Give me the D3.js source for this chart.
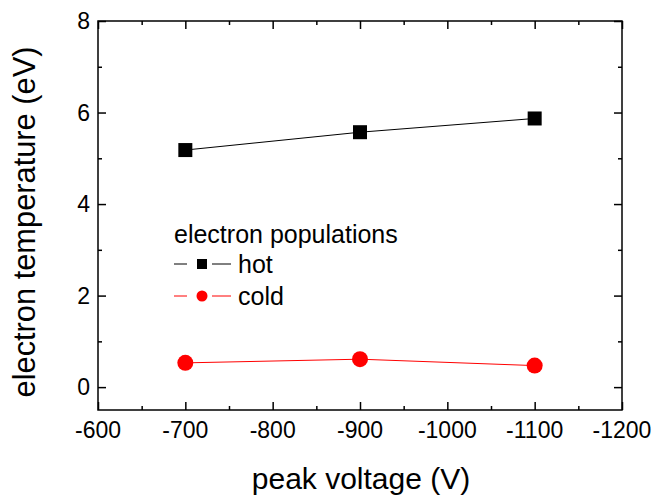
<!DOCTYPE html>
<html>
<head>
<meta charset="utf-8">
<script src="https://cdn.jsdelivr.net/npm/d3@7"></script>
<style>
  body { margin: 0; background: #fff; }
  text { font-family: "Liberation Sans", Arial, sans-serif; fill: #000; }
</style>
</head>
<body>
<div id="chart"></div>
<script>
// peak voltage values (V)
var voltages = [-700, -900, -1100];
// electron temperature (eV) per population
var hotTemps = [5.18, 5.57, 5.87];
var coldTemps = [0.53, 0.61, 0.47];
var seriesNames = ["hot", "cold"];
var xTicks = [-600, -700, -800, -900, -1000, -1100, -1200];
var yTicks = [0, 2, 4, 6, 8];

var width = 655, height = 495;
var margin = { top: 21, right: 33, bottom: 85, left: 98 };
var w = width - margin.left - margin.right;
var h = height - margin.top - margin.bottom;

var svg = d3.select("#chart").append("svg")
    .attr("width", width)
    .attr("height", height);

var g = svg.append("g")
    .attr("transform", "translate(" + margin.left + "," + margin.top + ")");

var x = d3.scaleLinear().domain([-600, -1200]).range([0, w]);
var y = d3.scaleLinear().domain([-0.5, 8]).range([h, 0]);

var xMinor = d3.range(-650, -1200, -100);
var yMinor = [1, 3, 5, 7];

// ticks point inward on all four sides
function tickAxis(axis, ticks, len) {
    return axis.tickValues(ticks).tickSizeInner(-len).tickSizeOuter(0).tickPadding(0);
}

function drawAxis(sel, axis) {
    sel.call(axis);
    sel.select(".domain").remove();
    sel.selectAll("line").attr("stroke", "#000").attr("stroke-width", 1.5);
    sel.selectAll("text").remove();
}

var major = 8, minor = 4;

// bottom
drawAxis(g.append("g").attr("transform", "translate(0," + h + ")"), tickAxis(d3.axisBottom(x), xTicks, major));
drawAxis(g.append("g").attr("transform", "translate(0," + h + ")"), tickAxis(d3.axisBottom(x), xMinor, minor));
// top
drawAxis(g.append("g"), tickAxis(d3.axisTop(x), xTicks, major));
drawAxis(g.append("g"), tickAxis(d3.axisTop(x), xMinor, minor));
// left
drawAxis(g.append("g"), tickAxis(d3.axisLeft(y), yTicks, major));
drawAxis(g.append("g"), tickAxis(d3.axisLeft(y), yMinor, minor));
// right
drawAxis(g.append("g").attr("transform", "translate(" + w + ",0)"), tickAxis(d3.axisRight(y), yTicks, major));
drawAxis(g.append("g").attr("transform", "translate(" + w + ",0)"), tickAxis(d3.axisRight(y), yMinor, minor));

// frame
g.append("rect")
    .attr("width", w).attr("height", h)
    .attr("fill", "none").attr("stroke", "#000").attr("stroke-width", 1.5);

// tick labels
g.selectAll(".xlab").data(xTicks).enter().append("text")
    .attr("class", "xlab")
    .attr("x", function(d) { return x(d); })
    .attr("y", h + 28)
    .attr("text-anchor", "middle")
    .style("font-size", "23px")
    .text(function(d) { return d; });

g.selectAll(".ylab").data(yTicks).enter().append("text")
    .attr("class", "ylab")
    .attr("x", -8)
    .attr("y", function(d) { return y(d); })
    .attr("dy", "0.36em")
    .attr("text-anchor", "end")
    .style("font-size", "23px")
    .text(function(d) { return d; });

// axis titles
svg.append("text")
    .attr("x", 361).attr("y", 489)
    .attr("text-anchor", "middle")
    .style("font-size", "30px")
    .text("peak voltage (V)");

svg.append("text")
    .attr("transform", "translate(35,222) rotate(-90)")
    .attr("text-anchor", "middle")
    .style("font-size", "30.8px")
    .text("electron temperature (eV)");

// series
var line = d3.line()
    .x(function(d) { return x(d[0]); })
    .y(function(d) { return y(d[1]); });

var hotData = voltages.map(function(v, i) { return [v, hotTemps[i]]; });
var coldData = voltages.map(function(v, i) { return [v, coldTemps[i]]; });

g.append("path").datum(hotData)
    .attr("d", line).attr("fill", "none").attr("stroke", "#000").attr("stroke-width", 1);
g.append("path").datum(coldData)
    .attr("d", line).attr("fill", "none").attr("stroke", "#ff0000").attr("stroke-width", 1);

var sq = 14;
g.selectAll(".hot").data(hotData).enter().append("rect")
    .attr("x", function(d) { return x(d[0]) - sq / 2; })
    .attr("y", function(d) { return y(d[1]) - sq / 2; })
    .attr("width", sq).attr("height", sq)
    .attr("fill", "#000");

g.selectAll(".cold").data(coldData).enter().append("circle")
    .attr("cx", function(d) { return x(d[0]); })
    .attr("cy", function(d) { return y(d[1]); })
    .attr("r", 8)
    .attr("fill", "#ff0000");

// legend
var legend = svg.append("g").attr("transform", "translate(174,0)");
legend.append("text")
    .attr("x", 0).attr("y", 243)
    .style("font-size", "25px")
    .text("electron populations");

var rows = [
    { name: seriesNames[0], color: "#000", cy: 264, shape: "square" },
    { name: seriesNames[1], color: "#ff0000", cy: 296, shape: "circle" }
];
rows.forEach(function(r) {
    legend.append("line").attr("x1", 0).attr("x2", 13).attr("y1", r.cy).attr("y2", r.cy)
        .attr("stroke", r.color).attr("stroke-width", 1);
    legend.append("line").attr("x1", 38).attr("x2", 57).attr("y1", r.cy).attr("y2", r.cy)
        .attr("stroke", r.color).attr("stroke-width", 1);
    if (r.shape === "square") {
        legend.append("rect").attr("x", 28 - 5).attr("y", r.cy - 5)
            .attr("width", 10).attr("height", 10).attr("fill", r.color);
    } else {
        legend.append("circle").attr("cx", 28).attr("cy", r.cy).attr("r", 5.5).attr("fill", r.color);
    }
    legend.append("text").attr("x", 64).attr("y", r.cy + 8.5)
        .style("font-size", "25px")
        .text(r.name);
});
</script>
</body>
</html>
